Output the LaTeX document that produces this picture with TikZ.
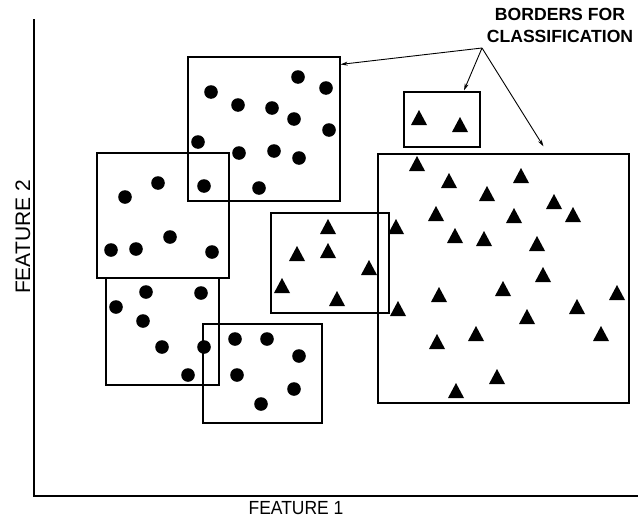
\documentclass[tikz,border=0pt]{standalone}
\usepackage{fontspec}
\setmainfont{Liberation Sans}
\usetikzlibrary{arrows.meta}
\tikzset{
  border/.style={draw=black, line width=1.2pt, inner sep=0pt},
  axisline/.style={draw=black, line width=1.4pt},
  pointer/.style={draw=black, line width=0.9pt, -{Stealth[length=7pt,width=4pt]}},
}

\begin{document}
\begin{tikzpicture}[x=1pt,y=-1pt]
\useasboundingbox (0,0) rectangle (640,525);

% Axes
\coordinate (origin) at (34,496);
\coordinate (ytop) at (34,19);
\coordinate (xend) at (638,496);
\draw[axisline] (ytop) -- (origin) -- (xend);
\node[font=\fontsize{19}{21}\selectfont, xscale=0.92] (xlabel) at (296,508) {FEATURE 1};
\node[font=\fontsize{21}{23}\selectfont, rotate=90] (ylabel) at (23,237) {FEATURE 2};

% Borders - circle class
\node[border, minimum width=152pt, minimum height=144pt] (boxA) at (264,129) {};
\node[border, minimum width=132pt, minimum height=125pt] (boxB) at (163,215.5) {};
\node[border, minimum width=113pt, minimum height=107pt] (boxF) at (162.5,331.5) {};
\node[border, minimum width=119pt, minimum height=99pt] (boxG) at (262.5,373.5) {};

% Borders - triangle class
\node[border, minimum width=118pt, minimum height=100pt] (boxC) at (330,263) {};
\node[border, minimum width=76pt, minimum height=55pt] (boxE) at (442,119.5) {};
\node[border, minimum width=251pt, minimum height=249pt] (boxD) at (503.5,278.5) {};

% Circles
\foreach \x/\y in {211/92, 298/77, 326/88, 238/105, 272/108, 294/119, 329/130,
  198/142, 239/153, 274/151, 299/158, 204/186, 259/188,
  158/183, 125/197, 170/237, 111/250, 136/249, 212/252,
  146/292, 201/293, 116/307, 143/321, 162/347, 204/347, 188/375,
  235/339, 267/339, 299/356, 237/375, 294/389, 261/404}
  \fill (\x,\y) circle (6.8);

% Triangles
\foreach \x/\y in {328/227, 297/254, 328/251, 369/268, 282/286, 337/299,
  419/118, 460/125,
  417/164, 449/181, 521/176, 487/194, 554/202, 436/214, 514/216, 573/215,
  396/227, 455/236, 484/239, 537/244, 543/275, 503/289, 439/295, 617/293,
  398/309, 577/307, 527/317, 476/334, 437/342, 601/334, 497/377, 456/391}
  \fill (\x,\y) ++(0,-8) -- ++(8,15) -- ++(-16,0) -- cycle;

% Label and pointers
\node[anchor=north, align=center, inner sep=0pt,
  font=\bfseries\fontsize{17.6}{22.5}\selectfont] (borders) at (560,8) {BORDERS FOR\\CLASSIFICATION};
\coordinate (hub) at (482,48);
\draw[pointer] (hub) -- ([yshift=-8pt]boxA.north east);
\draw[pointer] (hub) -- ([xshift=22pt,yshift=1pt]boxE.north);
\draw[pointer] (hub) -- ([xshift=40pt,yshift=7pt]boxD.north);

\end{tikzpicture}
\end{document}
